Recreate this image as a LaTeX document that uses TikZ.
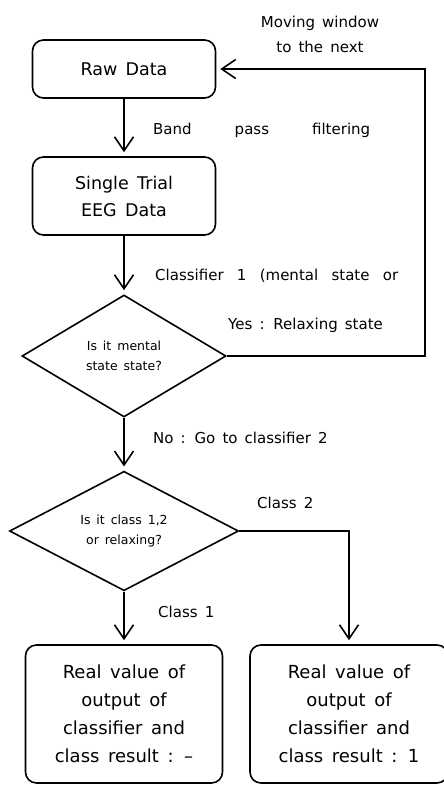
\documentclass[tikz,border=0pt]{standalone}
\usepackage{fontspec}
\setmainfont[WordSpace=1.5]{DejaVu Sans}
\usetikzlibrary{shapes.geometric,arrows.meta}

\tikzset{
	box/.style={draw,rounded corners=11pt,line width=1.6pt,align=center},
	decision/.style={draw,diamond,line width=1.6pt,align=center,inner sep=0pt,font=\fontsize{12.5}{20}\selectfont},
	flow/.style={line width=1.6pt,shorten >=4pt,-{Straight Barb[length=14pt,width=19pt,line width=1.6pt]}},
	lbl/.style={font=\fontsize{15}{25}\selectfont,inner sep=0pt},
}

\begin{document}
\begin{tikzpicture}[x=1pt,y=-1pt]
	\clip (0,0) rectangle (444,785);
	\node[box,minimum width=183pt,minimum height=58pt,font=\fontsize{17.5}{27}\selectfont] (raw) at (124,69) {Raw Data};
	\node[box,minimum width=183pt,minimum height=78pt,font=\fontsize{17.5}{27}\selectfont] (eeg) at (124,196) {Single Trial\\EEG Data};
	\node[decision,minimum width=204pt,minimum height=122pt] (dec1) at (124,356) {Is it mental\\state state?};
	\node[decision,minimum width=229pt,minimum height=112pt] (dec2) at (124,531) {Is it class 1,2\\or relaxing?};
	\node[box,minimum width=197pt,minimum height=138pt,font=\fontsize{18}{28}\selectfont] (res1) at (124,714) {Real value of\\output of\\classifier and\\class result : –};
	\node[box,minimum width=198pt,minimum height=138pt,font=\fontsize{18}{28}\selectfont] (res2) at (349,714) {Real value of\\output of\\classifier and\\class result : 1};
	\coordinate (loop) at (425,69);

	\draw[flow] (raw) -- (eeg);
	\draw[flow] (eeg) -- (dec1);
	\draw[flow] (dec1) -- (dec2);
	\draw[flow] (dec2) -- (res1);
	\draw[flow] (dec1.east) -| (loop) -- (raw.east);
	\draw[flow] (dec2.east) -| (res2.north);

	\node[lbl,align=center] (move) at (320,34) {Moving window\\to the next};
	\node[lbl,anchor=west] (bpf) at (153,130) {\makebox[217pt][s]{Band pass filtering}};
	\node[lbl,anchor=west] (cls1) at (155,276) {\makebox[243pt][s]{Classifier 1 (mental state or}};
	\node[lbl,anchor=west] (yes) at (228,325) {Yes : Relaxing state};
	\node[lbl,anchor=west] (no) at (153,438) {No : Go to classifier 2};
	\node[lbl,anchor=west] (cl2) at (257,503) {Class 2};
	\node[lbl,anchor=west] (cl1) at (158,612) {Class 1};
\end{tikzpicture}
\end{document}
